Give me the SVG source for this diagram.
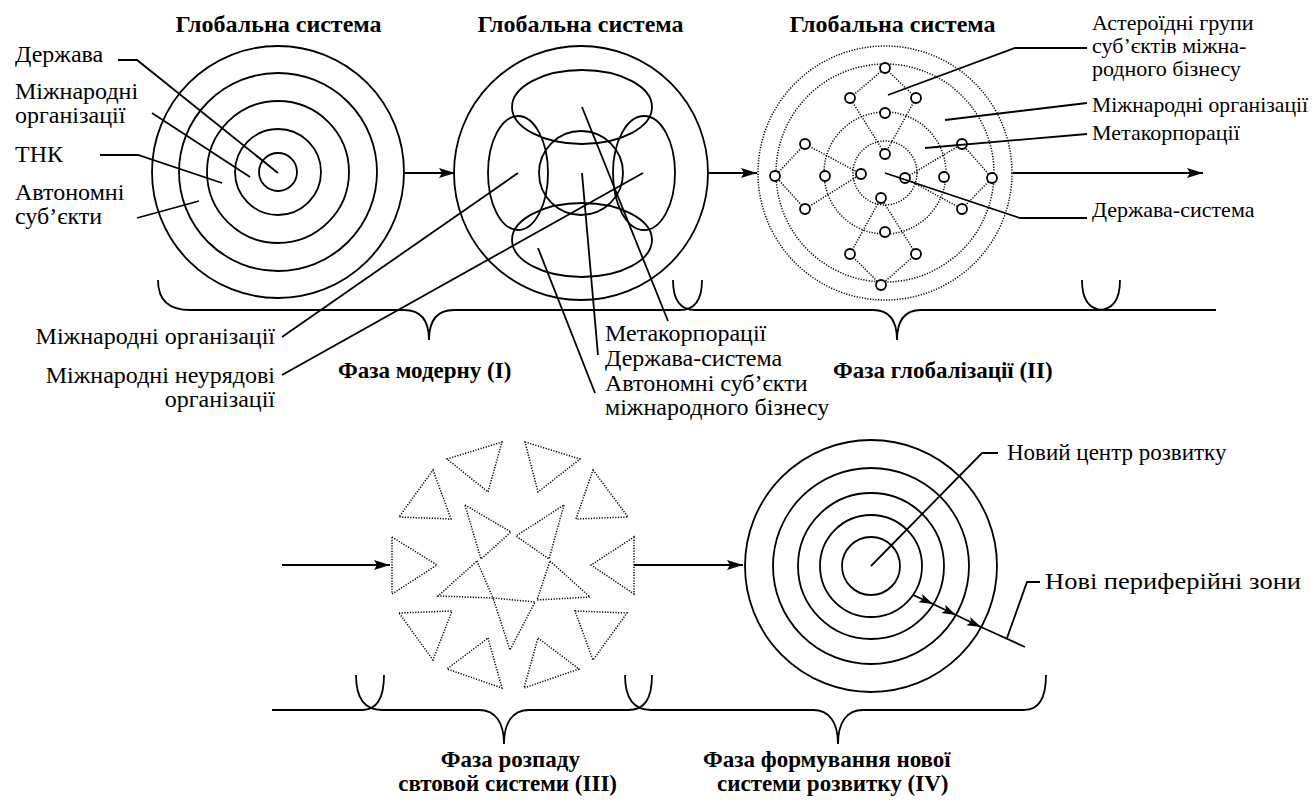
<svg xmlns="http://www.w3.org/2000/svg" width="1313" height="804" viewBox="0 0 1313 804">
<defs>
<style>
.s{fill:none;stroke:#000;stroke-width:1.8}
.d{fill:none;stroke:#000;stroke-width:1.5;stroke-dasharray:1.2 1.5}
.n{fill:#fff;stroke:#000;stroke-width:1.8}
text{font-family:'Liberation Serif','Tinos','DejaVu Serif',serif;font-size:24px;fill:#000}
.r{font-size:22px}
.q{font-size:23px}
.b{font-weight:bold;font-size:24px}
.p{font-weight:bold;font-size:23px}
</style>
<marker id="ah" markerUnits="userSpaceOnUse" markerWidth="18" markerHeight="12" refX="16" refY="5" orient="auto"><path d="M0,0 L16,5 L0,10 L3,5 z" fill="#000"/></marker>
<marker id="ahs" markerUnits="userSpaceOnUse" markerWidth="16" markerHeight="12" refX="14" refY="4.5" orient="auto"><path d="M0,0 L14,4.5 L0,9 L3,4.5 z" fill="#000"/></marker>
</defs>
<rect width="1313" height="804" fill="#fff"/>

<g id="titles">
<text class="b" x="278.5" y="32" text-anchor="middle">Глобальна система</text>
<text class="b" x="580.5" y="32" text-anchor="middle">Глобальна система</text>
<text class="b" x="892.5" y="32" text-anchor="middle">Глобальна система</text>
</g>

<g id="circle1">
<circle class="s" cx="278" cy="172" r="126"/>
<circle class="s" cx="278" cy="172" r="99"/>
<circle class="s" cx="278" cy="172" r="71"/>
<circle class="s" cx="278" cy="172" r="43"/>
<circle class="s" cx="278" cy="172" r="19"/>
</g>

<g id="circle2">
<circle class="s" cx="581" cy="173" r="127"/>
<ellipse class="s" cx="582" cy="107" rx="70" ry="37"/>
<ellipse class="s" cx="582" cy="240" rx="70" ry="37"/>
<ellipse class="s" cx="518" cy="173" rx="30" ry="57"/>
<ellipse class="s" cx="644" cy="173" rx="31" ry="57"/>
<circle class="s" cx="581" cy="173" r="42"/>
</g>

<g id="circle3">
<circle class="d" cx="885" cy="173" r="127"/>
<circle class="d" cx="885" cy="173" r="109"/>
<circle class="d" cx="885" cy="173" r="61"/>
<circle class="d" cx="885" cy="173" r="32"/>
<path class="d" d="M885,68 L850,98 L885,154 L916,98 Z M775,176 L805,144 L861,174 L805,209 Z M992,178 L962,144 L905,178 L962,209 Z M881,285 L850,254 L881,198 L916,254 Z"/>
<circle class="n" cx="885" cy="68" r="5"/>
<circle class="n" cx="850" cy="98" r="5"/>
<circle class="n" cx="916" cy="98" r="5"/>
<circle class="n" cx="885" cy="113" r="5"/>
<circle class="n" cx="805" cy="144" r="5"/>
<circle class="n" cx="962" cy="144" r="5"/>
<circle class="n" cx="885" cy="154" r="5"/>
<circle class="n" cx="775" cy="176" r="5"/>
<circle class="n" cx="825" cy="176" r="5"/>
<circle class="n" cx="861" cy="174" r="5"/>
<circle class="n" cx="905" cy="178" r="5"/>
<circle class="n" cx="944" cy="177" r="5"/>
<circle class="n" cx="992" cy="178" r="5"/>
<circle class="n" cx="881" cy="198" r="5"/>
<circle class="n" cx="805" cy="209" r="5"/>
<circle class="n" cx="962" cy="209" r="5"/>
<circle class="n" cx="885" cy="232" r="5"/>
<circle class="n" cx="850" cy="254" r="5"/>
<circle class="n" cx="916" cy="254" r="5"/>
<circle class="n" cx="881" cy="285" r="5"/>
</g>

<g id="triangles">
<polygon class="d" points="447,459 502,442 488,492"/>
<polygon class="d" points="525,442 580,459 538,492"/>
<polygon class="d" points="593,470 628,517 576,519"/>
<polygon class="d" points="634,537 634,594 591,565"/>
<polygon class="d" points="575,611 627,613 593,660"/>
<polygon class="d" points="538,638 579,669 524,688"/>
<polygon class="d" points="488,638 502,688 447,669"/>
<polygon class="d" points="399,613 452,611 433,660"/>
<polygon class="d" points="392,537 437,565 392,594"/>
<polygon class="d" points="433,470 451,519 399,517"/>
<polygon class="d" points="465,505 511,532 481,559"/>
<polygon class="d" points="564,505 549,559 516,536"/>
<polygon class="d" points="477,561 493,598 438,596"/>
<polygon class="d" points="550,561 590,597 537,600"/>
<polygon class="d" points="493,598 535,602 510,650"/>
</g>

<g id="circle4">
<circle class="s" cx="871" cy="566" r="126"/>
<circle class="s" cx="871" cy="566" r="98"/>
<circle class="s" cx="871" cy="566" r="73"/>
<circle class="s" cx="871" cy="566" r="51"/>
<circle class="s" cx="871" cy="566" r="29"/>
</g>

<g id="connectors">
<path class="s" d="M405,173 H455" marker-end="url(#ah)"/>
<path class="s" d="M708,173 H757" marker-end="url(#ah)"/>
<path class="s" d="M1013,173 H1203" marker-end="url(#ah)"/>
<path class="s" d="M282,565 H390" marker-end="url(#ah)"/>
<path class="s" d="M634,565 H743" marker-end="url(#ah)"/>
<polyline class="s" points="913,595 933,604 956,615 981,627 1025,647" marker-mid="url(#ahs)"/>
<path class="s" d="M118,60 H137 L278,173"/>
<path class="s" d="M152,113 L250,177"/>
<path class="s" d="M100,155 H138 L222,183"/>
<path class="s" d="M137,218 L199,201"/>
<path class="s" d="M518,173 L282,337"/>
<path class="s" d="M643,173 L282,375"/>
<path class="s" d="M582,107 L668,321"/>
<path class="s" d="M582,173 L598,355"/>
<path class="s" d="M538,248 L595,393"/>
<path class="s" d="M888,95 L1015,48 H1087"/>
<path class="s" d="M945,120 L1087,103"/>
<path class="s" d="M925,148 L1087,134"/>
<path class="s" d="M885,173 L1020,218 H1087"/>
<path class="s" d="M871,566 L982,453 H998"/>
<path class="s" d="M1007,638 L1027,582 H1040"/>
<path class="s" d="M158,280 C158,300 168,310 190,310 H404 C420,310 429,320 429,340 C429,320 438,310 454,310 H680 C694,310 702,300 702,280"/>
<path class="s" d="M673,280 C673,300 681,310 695,310 H873 C889,310 897,320 897,340 C897,320 905,310 921,310 H1098 C1112,310 1120,300 1120,280"/>
<path class="s" d="M1082,280 C1082,300 1090,310 1104,310 H1216"/>
<path class="s" d="M272,710 H362 C376,710 384,700 384,675"/>
<path class="s" d="M356,675 C356,700 366,710 382,710 H479 C495,710 504,722 504,744 C504,722 513,710 529,710 H628 C644,710 652,700 652,675"/>
<path class="s" d="M625,675 C625,700 635,710 651,710 H813 C829,710 838,722 838,744 C838,722 847,710 863,710 H1024 C1038,710 1046,700 1046,675"/>
</g>

<g id="labels1">
<text x="15" y="62">Держава</text>
<text x="15" y="99">Міжнародні</text>
<text x="15" y="123">організації</text>
<text x="15" y="162">ТНК</text>
<text x="15" y="200">Автономні</text>
<text x="15" y="224">суб’єкти</text>
</g>

<g id="labels2">
<text x="275" y="344" text-anchor="end">Міжнародні організації</text>
<text x="275" y="383" text-anchor="end">Міжнародні неурядові</text>
<text x="275" y="407" text-anchor="end">організації</text>
<text x="605" y="341">Метакорпорації</text>
<text x="605" y="366">Держава-система</text>
<text x="605" y="391">Автономні суб’єкти</text>
<text x="605" y="415">міжнародного бізнесу</text>
</g>

<g id="labels3">
<text class="r" x="1092" y="30">Астероїдні групи</text>
<text class="r" x="1092" y="53">суб’єктів міжна-</text>
<text class="r" x="1092" y="76">родного бізнесу</text>
<text class="r" x="1092" y="112" textLength="216" lengthAdjust="spacingAndGlyphs">Міжнародні організації</text>
<text class="r" x="1092" y="140">Метакорпорації</text>
<text class="r" x="1092" y="217">Держава-система</text>
</g>

<g id="labels4">
<text class="q" x="1007" y="460">Новий центр розвитку</text>
<text class="q" x="1045" y="589" textLength="256" lengthAdjust="spacingAndGlyphs">Нові периферійні зони</text>
</g>

<g id="phases">
<text class="p" x="338" y="378">Фаза модерну (I)</text>
<text class="p" x="833" y="378">Фаза глобалізації (II)</text>
<text class="p" x="580" y="767" text-anchor="end">Фаза розпаду</text>
<text class="p" x="617" y="791" text-anchor="end">свтовой системи (III)</text>
<text class="p" x="703" y="767">Фаза формування нової</text>
<text class="p" x="717" y="791">системи розвитку (IV)</text>
</g>
</svg>
